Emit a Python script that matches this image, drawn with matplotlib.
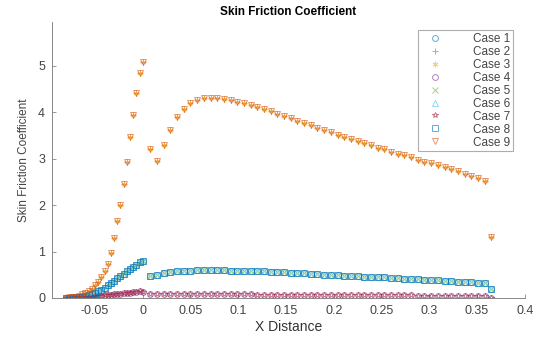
import numpy as np
import matplotlib.pyplot as plt

plt.rcParams['font.family'] = ['Liberation Sans', 'DejaVu Sans']

# sample positions: upstream part, then the downstream surface (last point = trailing edge)
x_up = [-0.080, -0.0767, -0.0733, -0.070, -0.0667, -0.0633, -0.060, -0.0567,
        -0.0533, -0.050, -0.0467, -0.0433, -0.040, -0.0367, -0.0333, -0.030,
        -0.0267, -0.0233, -0.020, -0.0167, -0.0133, -0.010, -0.0067, -0.0033, 0.0]
x_dn = [0.008, 0.015, 0.022, 0.029, 0.036, 0.043, 0.050, 0.057, 0.064, 0.071,
        0.078, 0.085, 0.092, 0.099, 0.106, 0.113, 0.120, 0.127, 0.134, 0.141,
        0.148, 0.155, 0.162, 0.169, 0.176, 0.183, 0.190, 0.197, 0.204, 0.211,
        0.218, 0.225, 0.232, 0.239, 0.246, 0.253, 0.260, 0.267, 0.274, 0.281,
        0.288, 0.295, 0.302, 0.309, 0.316, 0.323, 0.330, 0.337, 0.344, 0.351,
        0.358, 0.365]

# high-friction cases
cf_high_up = [0.00, 0.01, 0.02, 0.03, 0.05, 0.08, 0.11, 0.15, 0.20, 0.27,
              0.35, 0.45, 0.58, 0.74, 0.97, 1.30, 1.65, 2.01, 2.45, 2.94,
              3.46, 3.94, 4.41, 4.85, 5.08]
cf_high_dn = [3.20, 2.95, 3.30, 3.62, 3.90, 4.08, 4.20, 4.27, 4.31, 4.32,
              4.31, 4.29, 4.26, 4.23, 4.20, 4.16, 4.12, 4.07, 4.02, 3.97,
              3.92, 3.87, 3.82, 3.77, 3.72, 3.67, 3.62, 3.57, 3.52, 3.47,
              3.42, 3.38, 3.33, 3.29, 3.24, 3.20, 3.15, 3.11, 3.07, 3.03,
              2.98, 2.94, 2.90, 2.86, 2.82, 2.77, 2.73, 2.68, 2.63, 2.58,
              2.52, 1.32]

# mid-friction cases
cf_mid_up = [0.00, 0.00, 0.01, 0.01, 0.02, 0.03, 0.04, 0.06, 0.08, 0.11,
             0.14, 0.18, 0.22, 0.27, 0.32, 0.37, 0.42, 0.47, 0.52, 0.57,
             0.62, 0.67, 0.72, 0.77, 0.80]
cf_mid_dn = [0.48, 0.50, 0.53, 0.55, 0.57, 0.58, 0.59, 0.60, 0.60, 0.60,
             0.60, 0.60, 0.59, 0.59, 0.58, 0.58, 0.57, 0.57, 0.56, 0.55,
             0.55, 0.54, 0.53, 0.53, 0.52, 0.51, 0.50, 0.50, 0.49, 0.48,
             0.47, 0.47, 0.46, 0.45, 0.44, 0.44, 0.43, 0.42, 0.41, 0.41,
             0.40, 0.39, 0.38, 0.38, 0.37, 0.36, 0.35, 0.35, 0.34, 0.33,
             0.32, 0.19]

# low-friction cases
cf_low_up = [0.00, 0.00, 0.01, 0.01, 0.01, 0.02, 0.02, 0.03, 0.03, 0.04,
             0.04, 0.05, 0.06, 0.06, 0.07, 0.08, 0.09, 0.09, 0.10, 0.11,
             0.11, 0.12, 0.13, 0.14, 0.12]
cf_low_dn = [0.09, 0.09, 0.09, 0.09, 0.09, 0.09, 0.09, 0.08, 0.08, 0.08,
             0.08, 0.08, 0.08, 0.08, 0.08, 0.08, 0.07, 0.07, 0.07, 0.07,
             0.07, 0.07, 0.07, 0.07, 0.07, 0.07, 0.07, 0.06, 0.06, 0.06,
             0.06, 0.06, 0.06, 0.06, 0.06, 0.06, 0.06, 0.06, 0.06, 0.06,
             0.05, 0.05, 0.05, 0.05, 0.05, 0.05, 0.05, 0.05, 0.05, 0.05,
             0.05, 0.00]

x_all = x_up + x_dn
profiles = {
    'high': cf_high_up + cf_high_dn,
    'mid': cf_mid_up + cf_mid_dn,
    'low': cf_low_up + cf_low_dn,
}

case_names = ['Case 1', 'Case 2', 'Case 3', 'Case 4', 'Case 5',
              'Case 6', 'Case 7', 'Case 8', 'Case 9']
case_profile = ['mid', 'high', 'high', 'low', 'mid', 'mid', 'low', 'mid', 'high']
case_colors = ['#0072BD', '#D95319', '#EDB120', '#7E2F8E', '#77AC30',
               '#4DBEEE', '#A2142F', '#0072BD', '#D95319']
case_markers = ['o', '+', (6, 2, 0), 'o', 'x', '^', '*', 's', 'v']

fig = plt.figure(figsize=(5.36, 3.37), dpi=100)
ax = fig.add_axes([0.097, 0.116, 0.882, 0.819])

for name, prof, col, mk in zip(case_names, case_profile, case_colors, case_markers):
    ax.plot(x_all, profiles[prof], linestyle='none', marker=mk, markersize=4.2,
            markerfacecolor='none', markeredgecolor=col, markeredgewidth=0.7,
            alpha=0.6, label=name)

ax.set_xlim(-0.095, 0.4)
ax.set_ylim(0, 5.95)
ax.set_xticks([-0.05, 0, 0.05, 0.1, 0.15, 0.2, 0.25, 0.3, 0.35, 0.4])
ax.set_xticklabels(['-0.05', '0', '0.05', '0.1', '0.15', '0.2', '0.25', '0.3', '0.35', '0.4'])
ax.set_yticks([0, 1, 2, 3, 4, 5])

for side in ['top', 'right']:
    ax.spines[side].set_visible(False)
for side in ['left', 'bottom']:
    ax.spines[side].set_color('#888888')
    ax.spines[side].set_linewidth(0.7)
ax.tick_params(direction='in', length=3, width=0.6, color='#888888',
               labelsize=9, labelcolor='#444444', pad=5)

ax.set_title('Skin Friction Coefficient', fontsize=8.5, fontweight='bold', pad=5)
ax.set_xlabel('X Distance', fontsize=10, color='#333333', labelpad=2)
ax.set_ylabel('Skin Friction Coefficient', fontsize=8.5, color='#444444', labelpad=6)

leg = ax.legend(loc='upper right', bbox_to_anchor=(513 / 536, 1 - 30 / 337),
                bbox_transform=fig.transFigure, fontsize=8.5, frameon=True,
                fancybox=False, borderpad=0.25, labelspacing=0.08,
                handlelength=2.4, handletextpad=2.0, borderaxespad=0)
leg.get_frame().set_edgecolor('#999999')
leg.get_frame().set_linewidth(0.8)
for t in leg.get_texts():
    t.set_color('#444444')

fig.savefig('out.png', dpi=100)
